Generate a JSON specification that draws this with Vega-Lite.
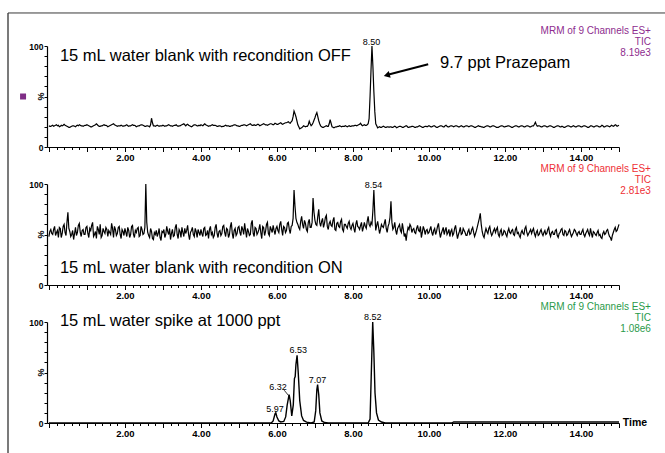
{
"$schema":"https://vega.github.io/schema/vega-lite/v6.json",
"padding":{"left":7,"top":11,"right":0,"bottom":0},
"config":{"font":"Liberation Sans","view":{"stroke":null}},
"spacing":37,
"bounds":"flush",
"datasets":{
"p1":[{"t":0,"v":21},{"t":0.05,"v":20.5},{"t":0.1,"v":21.5},{"t":0.15,"v":21},{"t":0.2,"v":22},{"t":0.25,"v":21.5},{"t":0.3,"v":20.5},{"t":0.35,"v":21},{"t":0.4,"v":22.5},{"t":0.45,"v":21},{"t":0.5,"v":20},{"t":0.55,"v":19.5},{"t":0.6,"v":20.5},{"t":0.65,"v":21},{"t":0.7,"v":20},{"t":0.75,"v":21.5},{"t":0.8,"v":22},{"t":0.85,"v":21},{"t":0.9,"v":20.5},{"t":0.95,"v":21.5},
{"t":1,"v":22},{"t":1.05,"v":21},{"t":1.1,"v":20},{"t":1.15,"v":20.5},{"t":1.2,"v":21.5},{"t":1.25,"v":23},{"t":1.3,"v":21},{"t":1.35,"v":20.5},{"t":1.4,"v":21},{"t":1.45,"v":22},{"t":1.5,"v":21.5},{"t":1.55,"v":20},{"t":1.6,"v":21},{"t":1.65,"v":22},{"t":1.7,"v":23},{"t":1.75,"v":21.5},{"t":1.8,"v":20.5},{"t":1.85,"v":21},{"t":1.9,"v":21.5},{"t":1.95,"v":20.5},
{"t":2,"v":21},{"t":2.05,"v":22},{"t":2.1,"v":20.5},{"t":2.15,"v":21},{"t":2.2,"v":22},{"t":2.25,"v":21.5},{"t":2.3,"v":20},{"t":2.35,"v":21},{"t":2.4,"v":21.5},{"t":2.45,"v":22},{"t":2.5,"v":21},{"t":2.55,"v":20.5},{"t":2.6,"v":21},{"t":2.65,"v":20},{"t":2.7,"v":28.5},{"t":2.75,"v":21},{"t":2.8,"v":20.5},{"t":2.85,"v":21.5},{"t":2.9,"v":20.5},{"t":2.95,"v":21},
{"t":3,"v":21.5},{"t":3.05,"v":20.5},{"t":3.1,"v":21},{"t":3.15,"v":22},{"t":3.2,"v":21},{"t":3.25,"v":20.5},{"t":3.3,"v":21.5},{"t":3.35,"v":22},{"t":3.4,"v":20.5},{"t":3.45,"v":21},{"t":3.5,"v":22},{"t":3.55,"v":23},{"t":3.6,"v":21},{"t":3.65,"v":22.5},{"t":3.7,"v":21},{"t":3.75,"v":20},{"t":3.8,"v":21.5},{"t":3.85,"v":22},{"t":3.9,"v":21},{"t":3.95,"v":21.5},
{"t":4,"v":22},{"t":4.05,"v":21},{"t":4.1,"v":23},{"t":4.15,"v":21.5},{"t":4.2,"v":20.5},{"t":4.25,"v":21},{"t":4.3,"v":22},{"t":4.35,"v":21.5},{"t":4.4,"v":21},{"t":4.45,"v":20.5},{"t":4.5,"v":21},{"t":4.55,"v":20},{"t":4.6,"v":20.5},{"t":4.65,"v":21.5},{"t":4.7,"v":21},{"t":4.75,"v":20.5},{"t":4.8,"v":21},{"t":4.85,"v":21.5},{"t":4.9,"v":22},{"t":4.95,"v":21},
{"t":5,"v":20.5},{"t":5.05,"v":21},{"t":5.1,"v":21.5},{"t":5.15,"v":22},{"t":5.2,"v":21},{"t":5.25,"v":22},{"t":5.3,"v":23},{"t":5.35,"v":21.5},{"t":5.4,"v":22},{"t":5.45,"v":21.5},{"t":5.5,"v":22.5},{"t":5.55,"v":21},{"t":5.6,"v":22},{"t":5.65,"v":23},{"t":5.7,"v":22},{"t":5.75,"v":21.5},{"t":5.8,"v":22.5},{"t":5.85,"v":23},{"t":5.9,"v":22},{"t":5.95,"v":23.5},
{"t":6,"v":22.5},{"t":6.05,"v":23},{"t":6.1,"v":24},{"t":6.15,"v":22.5},{"t":6.2,"v":23.5},{"t":6.25,"v":24},{"t":6.3,"v":25},{"t":6.35,"v":23.5},{"t":6.4,"v":26},{"t":6.45,"v":35.5},{"t":6.5,"v":30},{"t":6.55,"v":22},{"t":6.6,"v":18},{"t":6.65,"v":19},{"t":6.7,"v":21},{"t":6.75,"v":20},{"t":6.8,"v":20.5},{"t":6.85,"v":25.5},{"t":6.9,"v":21},{"t":6.95,"v":24},
{"t":7,"v":29},{"t":7.05,"v":34},{"t":7.1,"v":26},{"t":7.15,"v":21},{"t":7.2,"v":19.5},{"t":7.25,"v":20},{"t":7.3,"v":21},{"t":7.35,"v":20.5},{"t":7.4,"v":27},{"t":7.45,"v":20},{"t":7.5,"v":19},{"t":7.55,"v":20},{"t":7.6,"v":20.5},{"t":7.65,"v":21},{"t":7.7,"v":20},{"t":7.75,"v":20.5},{"t":7.8,"v":21},{"t":7.85,"v":20},{"t":7.9,"v":21},{"t":7.95,"v":20.5},
{"t":8,"v":21},{"t":8.05,"v":21.5},{"t":8.1,"v":21},{"t":8.15,"v":22},{"t":8.2,"v":23.5},{"t":8.25,"v":21},{"t":8.3,"v":22},{"t":8.35,"v":21.5},{"t":8.4,"v":23},{"t":8.45,"v":50},{"t":8.5,"v":100},{"t":8.55,"v":55},{"t":8.6,"v":23},{"t":8.65,"v":19},{"t":8.7,"v":20},{"t":8.75,"v":19.5},{"t":8.8,"v":20.5},{"t":8.85,"v":19.5},{"t":8.9,"v":20},{"t":8.95,"v":19.5},
{"t":9,"v":20},{"t":9.05,"v":19.5},{"t":9.1,"v":20.5},{"t":9.15,"v":19},{"t":9.2,"v":20},{"t":9.25,"v":20.5},{"t":9.3,"v":19.5},{"t":9.35,"v":20},{"t":9.4,"v":21},{"t":9.45,"v":19.5},{"t":9.5,"v":20},{"t":9.55,"v":20.5},{"t":9.6,"v":20},{"t":9.65,"v":19.5},{"t":9.7,"v":20},{"t":9.75,"v":21},{"t":9.8,"v":20},{"t":9.85,"v":19.5},{"t":9.9,"v":20.5},{"t":9.95,"v":20},
{"t":10,"v":21},{"t":10.05,"v":20},{"t":10.1,"v":20.5},{"t":10.15,"v":21},{"t":10.2,"v":19.5},{"t":10.25,"v":20},{"t":10.3,"v":21},{"t":10.35,"v":20.5},{"t":10.4,"v":20},{"t":10.45,"v":21.5},{"t":10.5,"v":20},{"t":10.55,"v":20.5},{"t":10.6,"v":21},{"t":10.65,"v":20},{"t":10.7,"v":21},{"t":10.75,"v":20.5},{"t":10.8,"v":20},{"t":10.85,"v":21},{"t":10.9,"v":20},{"t":10.95,"v":20.5},
{"t":11,"v":21},{"t":11.05,"v":20},{"t":11.1,"v":21},{"t":11.15,"v":20.5},{"t":11.2,"v":19.5},{"t":11.25,"v":20},{"t":11.3,"v":21},{"t":11.35,"v":20.5},{"t":11.4,"v":20},{"t":11.45,"v":19.5},{"t":11.5,"v":20.5},{"t":11.55,"v":21},{"t":11.6,"v":20},{"t":11.65,"v":20.5},{"t":11.7,"v":21},{"t":11.75,"v":20},{"t":11.8,"v":19.5},{"t":11.85,"v":20},{"t":11.9,"v":21},{"t":11.95,"v":20.5},
{"t":12,"v":20},{"t":12.05,"v":20.5},{"t":12.1,"v":21},{"t":12.15,"v":20},{"t":12.2,"v":19.5},{"t":12.25,"v":20.5},{"t":12.3,"v":21},{"t":12.35,"v":20},{"t":12.4,"v":20.5},{"t":12.45,"v":21},{"t":12.5,"v":20},{"t":12.55,"v":20.5},{"t":12.6,"v":21},{"t":12.65,"v":20},{"t":12.7,"v":20.5},{"t":12.75,"v":21},{"t":12.8,"v":24.5},{"t":12.85,"v":20.5},{"t":12.9,"v":21},{"t":12.95,"v":20},
{"t":13,"v":20.5},{"t":13.05,"v":21},{"t":13.1,"v":20},{"t":13.15,"v":20.5},{"t":13.2,"v":21},{"t":13.25,"v":20},{"t":13.3,"v":19.5},{"t":13.35,"v":20.5},{"t":13.4,"v":21},{"t":13.45,"v":20},{"t":13.5,"v":20.5},{"t":13.55,"v":19.5},{"t":13.6,"v":20},{"t":13.65,"v":21},{"t":13.7,"v":20.5},{"t":13.75,"v":20},{"t":13.8,"v":21},{"t":13.85,"v":20},{"t":13.9,"v":20.5},{"t":13.95,"v":21},
{"t":14,"v":20},{"t":14.05,"v":20.5},{"t":14.1,"v":21},{"t":14.15,"v":20},{"t":14.2,"v":19.5},{"t":14.25,"v":21},{"t":14.3,"v":20.5},{"t":14.35,"v":20},{"t":14.4,"v":21},{"t":14.45,"v":20.5},{"t":14.5,"v":20},{"t":14.55,"v":21.5},{"t":14.6,"v":20},{"t":14.65,"v":20.5},{"t":14.7,"v":21},{"t":14.75,"v":20},{"t":14.8,"v":21.5},{"t":14.85,"v":20.5},{"t":14.9,"v":22},{"t":14.95,"v":20.5},{"t":15,"v":21.5},
{"t":0.025,"v":20.5},{"t":0.075,"v":21},{"t":0.125,"v":20.5},{"t":0.175,"v":21.5},{"t":0.225,"v":21},{"t":0.275,"v":20},{"t":0.325,"v":21.5},{"t":0.375,"v":21.5},{"t":0.425,"v":21.5},{"t":0.475,"v":20.5},{"t":0.525,"v":19.5},{"t":0.575,"v":20},{"t":0.625,"v":21},{"t":0.675,"v":20.5},{"t":0.725,"v":21},{"t":0.775,"v":21},{"t":0.825,"v":21.5},{"t":0.875,"v":21},{"t":0.925,"v":21},{"t":0.975,"v":21.5},
{"t":1.025,"v":21.5},{"t":1.075,"v":20.5},{"t":1.125,"v":20},{"t":1.175,"v":21},{"t":1.225,"v":22},{"t":1.275,"v":22},{"t":1.325,"v":20.5},{"t":1.375,"v":21},{"t":1.425,"v":21.5},{"t":1.475,"v":21.5},{"t":1.525,"v":21},{"t":1.575,"v":20.5},{"t":1.625,"v":21.5},{"t":1.675,"v":22.5},{"t":1.725,"v":22},{"t":1.775,"v":21},{"t":1.825,"v":21},{"t":1.875,"v":21},{"t":1.925,"v":21},{"t":1.975,"v":21},
{"t":2.025,"v":21.5},{"t":2.075,"v":21},{"t":2.125,"v":21},{"t":2.175,"v":21.5},{"t":2.225,"v":21.5},{"t":2.275,"v":21},{"t":2.325,"v":20.5},{"t":2.375,"v":21},{"t":2.425,"v":22},{"t":2.475,"v":21.5},{"t":2.525,"v":20.5},{"t":2.575,"v":21},{"t":2.625,"v":20.5},{"t":2.675,"v":22},{"t":2.725,"v":24},{"t":2.775,"v":21},{"t":2.825,"v":21},{"t":2.875,"v":21},{"t":2.925,"v":21},{"t":2.975,"v":21},
{"t":3.025,"v":21},{"t":3.075,"v":21},{"t":3.125,"v":21.5},{"t":3.175,"v":21.5},{"t":3.225,"v":21},{"t":3.275,"v":21},{"t":3.325,"v":21.5},{"t":3.375,"v":21},{"t":3.425,"v":21},{"t":3.475,"v":21.5},{"t":3.525,"v":22.5},{"t":3.575,"v":22},{"t":3.625,"v":22},{"t":3.675,"v":21.5},{"t":3.725,"v":20.5},{"t":3.775,"v":20.5},{"t":3.825,"v":22},{"t":3.875,"v":21.5},{"t":3.925,"v":21},{"t":3.975,"v":21},
{"t":4.025,"v":21.5},{"t":4.075,"v":22},{"t":4.125,"v":22},{"t":4.175,"v":21},{"t":4.225,"v":21},{"t":4.275,"v":21.5},{"t":4.325,"v":21.5},{"t":4.375,"v":21.5},{"t":4.425,"v":20.5},{"t":4.475,"v":21},{"t":4.525,"v":20.5},{"t":4.575,"v":20.5},{"t":4.625,"v":21},{"t":4.675,"v":21},{"t":4.725,"v":21},{"t":4.775,"v":20.5},{"t":4.825,"v":21},{"t":4.875,"v":22},{"t":4.925,"v":21.5},{"t":4.975,"v":21},
{"t":5.025,"v":20.5},{"t":5.075,"v":21.5},{"t":5.125,"v":22},{"t":5.175,"v":21.5},{"t":5.225,"v":21.5},{"t":5.275,"v":22.5},{"t":5.325,"v":22},{"t":5.375,"v":21.5},{"t":5.425,"v":21.5},{"t":5.475,"v":22},{"t":5.525,"v":22},{"t":5.575,"v":21.5},{"t":5.625,"v":22.5},{"t":5.675,"v":22.5},{"t":5.725,"v":22},{"t":5.775,"v":22},{"t":5.825,"v":23},{"t":5.875,"v":22.5},{"t":5.925,"v":22.5},{"t":5.975,"v":23},
{"t":6.025,"v":22.5},{"t":6.075,"v":23.5},{"t":6.125,"v":23},{"t":6.175,"v":23},{"t":6.225,"v":24},{"t":6.275,"v":24.5},{"t":6.325,"v":24},{"t":6.375,"v":25},{"t":6.425,"v":30},{"t":6.475,"v":33},{"t":6.525,"v":26},{"t":6.575,"v":20},{"t":6.625,"v":18.5},{"t":6.675,"v":20},{"t":6.725,"v":20.5},{"t":6.775,"v":20.5},{"t":6.825,"v":22},{"t":6.875,"v":23},{"t":6.925,"v":22},{"t":6.975,"v":26.5},
{"t":7.025,"v":32},{"t":7.075,"v":30},{"t":7.125,"v":23},{"t":7.175,"v":20},{"t":7.225,"v":19.5},{"t":7.275,"v":20.5},{"t":7.325,"v":20.5},{"t":7.375,"v":23},{"t":7.425,"v":23.5},{"t":7.475,"v":19.5},{"t":7.525,"v":19.5},{"t":7.575,"v":20},{"t":7.625,"v":20.5},{"t":7.675,"v":20.5},{"t":7.725,"v":20.5},{"t":7.775,"v":20.5},{"t":7.825,"v":20.5},{"t":7.875,"v":20.5},{"t":7.925,"v":20.5},{"t":7.975,"v":21},
{"t":8.025,"v":21},{"t":8.075,"v":21.5},{"t":8.125,"v":21.5},{"t":8.175,"v":22.5},{"t":8.225,"v":22},{"t":8.275,"v":21.5},{"t":8.325,"v":21.5},{"t":8.375,"v":22},{"t":8.425,"v":28},{"t":8.475,"v":76},{"t":8.525,"v":80},{"t":8.575,"v":35},{"t":8.625,"v":21},{"t":8.675,"v":19.5},{"t":8.725,"v":19.5},{"t":8.775,"v":20},{"t":8.825,"v":20},{"t":8.875,"v":19.5},{"t":8.925,"v":20},{"t":8.975,"v":20},
{"t":9.025,"v":19.5},{"t":9.075,"v":20},{"t":9.125,"v":20},{"t":9.175,"v":19.5},{"t":9.225,"v":20.5},{"t":9.275,"v":20},{"t":9.325,"v":19.5},{"t":9.375,"v":20.5},{"t":9.425,"v":20.5},{"t":9.475,"v":19.5},{"t":9.525,"v":20},{"t":9.575,"v":20.5},{"t":9.625,"v":19.5},{"t":9.675,"v":20},{"t":9.725,"v":20.5},{"t":9.775,"v":20.5},{"t":9.825,"v":19.5},{"t":9.875,"v":20},{"t":9.925,"v":20.5},{"t":9.975,"v":20.5},
{"t":10.025,"v":20.5},{"t":10.075,"v":20},{"t":10.125,"v":21},{"t":10.175,"v":20},{"t":10.225,"v":19.5},{"t":10.275,"v":20.5},{"t":10.325,"v":21},{"t":10.375,"v":20},{"t":10.425,"v":21},{"t":10.475,"v":20.5},{"t":10.525,"v":20},{"t":10.575,"v":21},{"t":10.625,"v":20.5},{"t":10.675,"v":20.5},{"t":10.725,"v":21},{"t":10.775,"v":20},{"t":10.825,"v":20.5},{"t":10.875,"v":20.5},{"t":10.925,"v":20},{"t":10.975,"v":21},
{"t":11.025,"v":20.5},{"t":11.075,"v":20.5},{"t":11.125,"v":21},{"t":11.175,"v":20},{"t":11.225,"v":19.5},{"t":11.275,"v":20.5},{"t":11.325,"v":20.5},{"t":11.375,"v":20},{"t":11.425,"v":19.5},{"t":11.475,"v":20},{"t":11.525,"v":21},{"t":11.575,"v":20.5},{"t":11.625,"v":20},{"t":11.675,"v":21},{"t":11.725,"v":20.5},{"t":11.775,"v":19.5},{"t":11.825,"v":19.5},{"t":11.875,"v":20.5},{"t":11.925,"v":21},{"t":11.975,"v":20},
{"t":12.025,"v":20.5},{"t":12.075,"v":21},{"t":12.125,"v":20.5},{"t":12.175,"v":19.5},{"t":12.225,"v":20},{"t":12.275,"v":21},{"t":12.325,"v":20.5},{"t":12.375,"v":20},{"t":12.425,"v":21},{"t":12.475,"v":20.5},{"t":12.525,"v":20},{"t":12.575,"v":21},{"t":12.625,"v":20.5},{"t":12.675,"v":20},{"t":12.725,"v":21},{"t":12.775,"v":22.5},{"t":12.825,"v":22},{"t":12.875,"v":21},{"t":12.925,"v":20.5},{"t":12.975,"v":20},
{"t":13.025,"v":21},{"t":13.075,"v":20.5},{"t":13.125,"v":20},{"t":13.175,"v":21},{"t":13.225,"v":20.5},{"t":13.275,"v":19.5},{"t":13.325,"v":20},{"t":13.375,"v":21},{"t":13.425,"v":20.5},{"t":13.475,"v":20},{"t":13.525,"v":20},{"t":13.575,"v":19.5},{"t":13.625,"v":20.5},{"t":13.675,"v":21},{"t":13.725,"v":20},{"t":13.775,"v":20.5},{"t":13.825,"v":20.5},{"t":13.875,"v":20},{"t":13.925,"v":21},{"t":13.975,"v":20.5},
{"t":14.025,"v":20},{"t":14.075,"v":21},{"t":14.125,"v":20.5},{"t":14.175,"v":19.5},{"t":14.225,"v":20},{"t":14.275,"v":21},{"t":14.325,"v":20},{"t":14.375,"v":20.5},{"t":14.425,"v":21},{"t":14.475,"v":20},{"t":14.525,"v":20.5},{"t":14.575,"v":21},{"t":14.625,"v":20},{"t":14.675,"v":21},{"t":14.725,"v":20.5},{"t":14.775,"v":20.5},{"t":14.825,"v":21},{"t":14.875,"v":21},{"t":14.925,"v":21.5},{"t":14.975,"v":21}],
"p2":[{"t":0,"v":48},{"t":0.05,"v":55},{"t":0.1,"v":50},{"t":0.15,"v":58},{"t":0.2,"v":52},{"t":0.25,"v":47},{"t":0.3,"v":56},{"t":0.35,"v":51},{"t":0.4,"v":60},{"t":0.45,"v":49},{"t":0.5,"v":72},{"t":0.55,"v":53},{"t":0.6,"v":50},{"t":0.65,"v":45},{"t":0.7,"v":57},{"t":0.75,"v":52},{"t":0.8,"v":61},{"t":0.85,"v":48},{"t":0.9,"v":55},{"t":0.95,"v":50},
{"t":1,"v":58},{"t":1.05,"v":47},{"t":1.1,"v":54},{"t":1.15,"v":62},{"t":1.2,"v":50},{"t":1.25,"v":46},{"t":1.3,"v":55},{"t":1.35,"v":60},{"t":1.4,"v":49},{"t":1.45,"v":53},{"t":1.5,"v":57},{"t":1.55,"v":48},{"t":1.6,"v":52},{"t":1.65,"v":61},{"t":1.7,"v":47},{"t":1.75,"v":55},{"t":1.8,"v":51},{"t":1.85,"v":58},{"t":1.9,"v":46},{"t":1.95,"v":53},
{"t":2,"v":56},{"t":2.05,"v":48},{"t":2.1,"v":54},{"t":2.15,"v":50},{"t":2.2,"v":59},{"t":2.25,"v":47},{"t":2.3,"v":52},{"t":2.35,"v":57},{"t":2.4,"v":49},{"t":2.45,"v":55},{"t":2.5,"v":51},{"t":2.55,"v":100},{"t":2.6,"v":52},{"t":2.65,"v":47},{"t":2.7,"v":53},{"t":2.75,"v":45},{"t":2.8,"v":50},{"t":2.85,"v":48},{"t":2.9,"v":56},{"t":2.95,"v":44},
{"t":3,"v":52},{"t":3.05,"v":47},{"t":3.1,"v":58},{"t":3.15,"v":50},{"t":3.2,"v":45},{"t":3.25,"v":55},{"t":3.3,"v":49},{"t":3.35,"v":60},{"t":3.4,"v":46},{"t":3.45,"v":53},{"t":3.5,"v":57},{"t":3.55,"v":48},{"t":3.6,"v":51},{"t":3.65,"v":59},{"t":3.7,"v":45},{"t":3.75,"v":54},{"t":3.8,"v":50},{"t":3.85,"v":56},{"t":3.9,"v":47},{"t":3.95,"v":52},
{"t":4,"v":55},{"t":4.05,"v":48},{"t":4.1,"v":57},{"t":4.15,"v":50},{"t":4.2,"v":46},{"t":4.25,"v":58},{"t":4.3,"v":52},{"t":4.35,"v":49},{"t":4.4,"v":60},{"t":4.45,"v":47},{"t":4.5,"v":54},{"t":4.55,"v":51},{"t":4.6,"v":59},{"t":4.65,"v":48},{"t":4.7,"v":55},{"t":4.75,"v":50},{"t":4.8,"v":62},{"t":4.85,"v":46},{"t":4.9,"v":56},{"t":4.95,"v":51},
{"t":5,"v":58},{"t":5.05,"v":49},{"t":5.1,"v":55},{"t":5.15,"v":61},{"t":5.2,"v":47},{"t":5.25,"v":53},{"t":5.3,"v":50},{"t":5.35,"v":64},{"t":5.4,"v":48},{"t":5.45,"v":56},{"t":5.5,"v":52},{"t":5.55,"v":60},{"t":5.6,"v":46},{"t":5.65,"v":57},{"t":5.7,"v":53},{"t":5.75,"v":62},{"t":5.8,"v":49},{"t":5.85,"v":55},{"t":5.9,"v":59},{"t":5.95,"v":50},
{"t":6,"v":58},{"t":6.05,"v":52},{"t":6.1,"v":63},{"t":6.15,"v":49},{"t":6.2,"v":57},{"t":6.25,"v":54},{"t":6.3,"v":62},{"t":6.35,"v":51},{"t":6.4,"v":59},{"t":6.45,"v":94},{"t":6.5,"v":66},{"t":6.55,"v":60},{"t":6.6,"v":55},{"t":6.65,"v":68},{"t":6.7,"v":56},{"t":6.75,"v":61},{"t":6.8,"v":53},{"t":6.85,"v":65},{"t":6.9,"v":57},{"t":6.95,"v":86},
{"t":7,"v":64},{"t":7.05,"v":59},{"t":7.1,"v":75},{"t":7.15,"v":58},{"t":7.2,"v":66},{"t":7.25,"v":61},{"t":7.3,"v":69},{"t":7.35,"v":55},{"t":7.4,"v":63},{"t":7.45,"v":58},{"t":7.5,"v":67},{"t":7.55,"v":54},{"t":7.6,"v":62},{"t":7.65,"v":57},{"t":7.7,"v":65},{"t":7.75,"v":53},{"t":7.8,"v":60},{"t":7.85,"v":56},{"t":7.9,"v":63},{"t":7.95,"v":55},
{"t":8,"v":61},{"t":8.05,"v":52},{"t":8.1,"v":64},{"t":8.15,"v":57},{"t":8.2,"v":59},{"t":8.25,"v":53},{"t":8.3,"v":62},{"t":8.35,"v":56},{"t":8.4,"v":68},{"t":8.45,"v":58},{"t":8.5,"v":60},{"t":8.55,"v":94},{"t":8.6,"v":54},{"t":8.65,"v":63},{"t":8.7,"v":51},{"t":8.75,"v":60},{"t":8.8,"v":57},{"t":8.85,"v":65},{"t":8.9,"v":52},{"t":8.95,"v":61},
{"t":9,"v":83},{"t":9.05,"v":55},{"t":9.1,"v":62},{"t":9.15,"v":50},{"t":9.2,"v":58},{"t":9.25,"v":54},{"t":9.3,"v":61},{"t":9.35,"v":48},{"t":9.4,"v":44},{"t":9.45,"v":57},{"t":9.5,"v":60},{"t":9.55,"v":52},{"t":9.6,"v":56},{"t":9.65,"v":51},{"t":9.7,"v":59},{"t":9.75,"v":53},{"t":9.8,"v":47},{"t":9.85,"v":58},{"t":9.9,"v":50},{"t":9.95,"v":55},
{"t":10,"v":52},{"t":10.05,"v":58},{"t":10.1,"v":49},{"t":10.15,"v":56},{"t":10.2,"v":53},{"t":10.25,"v":61},{"t":10.3,"v":47},{"t":10.35,"v":54},{"t":10.4,"v":50},{"t":10.45,"v":57},{"t":10.5,"v":52},{"t":10.55,"v":48},{"t":10.6,"v":55},{"t":10.65,"v":51},{"t":10.7,"v":59},{"t":10.75,"v":46},{"t":10.8,"v":53},{"t":10.85,"v":50},{"t":10.9,"v":56},{"t":10.95,"v":52},
{"t":11,"v":49},{"t":11.05,"v":55},{"t":11.1,"v":51},{"t":11.15,"v":57},{"t":11.2,"v":48},{"t":11.25,"v":54},{"t":11.3,"v":62},{"t":11.35,"v":71},{"t":11.4,"v":53},{"t":11.45,"v":47},{"t":11.5,"v":56},{"t":11.55,"v":51},{"t":11.6,"v":58},{"t":11.65,"v":49},{"t":11.7,"v":54},{"t":11.75,"v":52},{"t":11.8,"v":57},{"t":11.85,"v":48},{"t":11.9,"v":55},{"t":11.95,"v":50},
{"t":12,"v":53},{"t":12.05,"v":48},{"t":12.1,"v":56},{"t":12.15,"v":51},{"t":12.2,"v":55},{"t":12.25,"v":49},{"t":12.3,"v":57},{"t":12.35,"v":52},{"t":12.4,"v":47},{"t":12.45,"v":54},{"t":12.5,"v":50},{"t":12.55,"v":58},{"t":12.6,"v":49},{"t":12.65,"v":53},{"t":12.7,"v":51},{"t":12.75,"v":56},{"t":12.8,"v":48},{"t":12.85,"v":54},{"t":12.9,"v":50},{"t":12.95,"v":55},
{"t":13,"v":49},{"t":13.05,"v":54},{"t":13.1,"v":51},{"t":13.15,"v":57},{"t":13.2,"v":48},{"t":13.25,"v":53},{"t":13.3,"v":50},{"t":13.35,"v":55},{"t":13.4,"v":47},{"t":13.45,"v":52},{"t":13.5,"v":56},{"t":13.55,"v":49},{"t":13.6,"v":53},{"t":13.65,"v":50},{"t":13.7,"v":55},{"t":13.75,"v":48},{"t":13.8,"v":52},{"t":13.85,"v":54},{"t":13.9,"v":49},{"t":13.95,"v":53},
{"t":14,"v":50},{"t":14.05,"v":55},{"t":14.1,"v":48},{"t":14.15,"v":53},{"t":14.2,"v":51},{"t":14.25,"v":56},{"t":14.3,"v":47},{"t":14.35,"v":52},{"t":14.4,"v":49},{"t":14.45,"v":54},{"t":14.5,"v":50},{"t":14.55,"v":46},{"t":14.6,"v":53},{"t":14.65,"v":51},{"t":14.7,"v":55},{"t":14.75,"v":48},{"t":14.8,"v":44},{"t":14.85,"v":52},{"t":14.9,"v":57},{"t":14.95,"v":54},{"t":15,"v":60},
{"t":0.025,"v":53},{"t":0.075,"v":51},{"t":0.125,"v":55},{"t":0.175,"v":49},{"t":0.225,"v":54},{"t":0.275,"v":57},{"t":0.325,"v":47},{"t":0.375,"v":58},{"t":0.425,"v":52},{"t":0.475,"v":62},{"t":0.525,"v":56},{"t":0.575,"v":48},{"t":0.625,"v":54},{"t":0.675,"v":51},{"t":0.725,"v":49},{"t":0.775,"v":59},{"t":0.825,"v":52},{"t":0.875,"v":54},{"t":0.925,"v":50},{"t":0.975,"v":57},
{"t":1.025,"v":51},{"t":1.075,"v":56},{"t":1.125,"v":59},{"t":1.175,"v":48},{"t":1.225,"v":53},{"t":1.275,"v":58},{"t":1.325,"v":50},{"t":1.375,"v":47},{"t":1.425,"v":56},{"t":1.475,"v":51},{"t":1.525,"v":55},{"t":1.575,"v":54},{"t":1.625,"v":50},{"t":1.675,"v":56},{"t":1.725,"v":58},{"t":1.775,"v":49},{"t":1.825,"v":57},{"t":1.875,"v":50},{"t":1.925,"v":55},{"t":1.975,"v":49},
{"t":2.025,"v":52},{"t":2.075,"v":57},{"t":2.125,"v":47},{"t":2.175,"v":58},{"t":2.225,"v":50},{"t":2.275,"v":54},{"t":2.325,"v":56},{"t":2.375,"v":48},{"t":2.425,"v":58},{"t":2.475,"v":50},{"t":2.525,"v":57},{"t":2.575,"v":62},{"t":2.625,"v":49},{"t":2.675,"v":56},{"t":2.725,"v":46},{"t":2.775,"v":52},{"t":2.825,"v":54},{"t":2.875,"v":51},{"t":2.925,"v":47},{"t":2.975,"v":53},
{"t":3.025,"v":55},{"t":3.075,"v":50},{"t":3.125,"v":53},{"t":3.175,"v":56},{"t":3.225,"v":51},{"t":3.275,"v":48},{"t":3.325,"v":57},{"t":3.375,"v":50},{"t":3.425,"v":55},{"t":3.475,"v":47},{"t":3.525,"v":52},{"t":3.575,"v":56},{"t":3.625,"v":54},{"t":3.675,"v":50},{"t":3.725,"v":52},{"t":3.775,"v":57},{"t":3.825,"v":48},{"t":3.875,"v":53},{"t":3.925,"v":55},{"t":3.975,"v":49},
{"t":4.025,"v":51},{"t":4.075,"v":56},{"t":4.125,"v":49},{"t":4.175,"v":54},{"t":4.225,"v":55},{"t":4.275,"v":50},{"t":4.325,"v":47},{"t":4.375,"v":57},{"t":4.425,"v":51},{"t":4.475,"v":53},{"t":4.525,"v":49},{"t":4.575,"v":58},{"t":4.625,"v":52},{"t":4.675,"v":56},{"t":4.725,"v":47},{"t":4.775,"v":58},{"t":4.825,"v":51},{"t":4.875,"v":54},{"t":4.925,"v":49},{"t":4.975,"v":57},
{"t":5.025,"v":52},{"t":5.075,"v":58},{"t":5.125,"v":50},{"t":5.175,"v":54},{"t":5.225,"v":56},{"t":5.275,"v":49},{"t":5.325,"v":61},{"t":5.375,"v":51},{"t":5.425,"v":57},{"t":5.475,"v":50},{"t":5.525,"v":55},{"t":5.575,"v":52},{"t":5.625,"v":58},{"t":5.675,"v":49},{"t":5.725,"v":60},{"t":5.775,"v":51},{"t":5.825,"v":58},{"t":5.875,"v":52},{"t":5.925,"v":54},{"t":5.975,"v":56},
{"t":6.025,"v":54},{"t":6.075,"v":60},{"t":6.125,"v":55},{"t":6.175,"v":58},{"t":6.225,"v":52},{"t":6.275,"v":61},{"t":6.325,"v":55},{"t":6.375,"v":58},{"t":6.425,"v":66},{"t":6.475,"v":78},{"t":6.525,"v":62},{"t":6.575,"v":57},{"t":6.625,"v":63},{"t":6.675,"v":60},{"t":6.725,"v":64},{"t":6.775,"v":55},{"t":6.825,"v":62},{"t":6.875,"v":57},{"t":6.925,"v":62},{"t":6.975,"v":72},
{"t":7.025,"v":60},{"t":7.075,"v":68},{"t":7.125,"v":62},{"t":7.175,"v":63},{"t":7.225,"v":57},{"t":7.275,"v":67},{"t":7.325,"v":58},{"t":7.375,"v":61},{"t":7.425,"v":59},{"t":7.475,"v":64},{"t":7.525,"v":55},{"t":7.575,"v":61},{"t":7.625,"v":58},{"t":7.675,"v":63},{"t":7.725,"v":55},{"t":7.775,"v":60},{"t":7.825,"v":58},{"t":7.875,"v":61},{"t":7.925,"v":57},{"t":7.975,"v":59},
{"t":8.025,"v":56},{"t":8.075,"v":60},{"t":8.125,"v":58},{"t":8.175,"v":55},{"t":8.225,"v":62},{"t":8.275,"v":57},{"t":8.325,"v":58},{"t":8.375,"v":63},{"t":8.425,"v":60},{"t":8.475,"v":62},{"t":8.525,"v":74},{"t":8.575,"v":70},{"t":8.625,"v":59},{"t":8.675,"v":57},{"t":8.725,"v":55},{"t":8.775,"v":58},{"t":8.825,"v":61},{"t":8.875,"v":56},{"t":8.925,"v":58},{"t":8.975,"v":67},
{"t":9.025,"v":62},{"t":9.075,"v":57},{"t":9.125,"v":54},{"t":9.175,"v":56},{"t":9.225,"v":60},{"t":9.275,"v":52},{"t":9.325,"v":55},{"t":9.375,"v":51},{"t":9.425,"v":52},{"t":9.475,"v":55},{"t":9.525,"v":58},{"t":9.575,"v":55},{"t":9.625,"v":52},{"t":9.675,"v":56},{"t":9.725,"v":54},{"t":9.775,"v":58},{"t":9.825,"v":52},{"t":9.875,"v":55},{"t":9.925,"v":54},{"t":9.975,"v":51},
{"t":10.025,"v":55},{"t":10.075,"v":52},{"t":10.125,"v":54},{"t":10.175,"v":50},{"t":10.225,"v":58},{"t":10.275,"v":53},{"t":10.325,"v":51},{"t":10.375,"v":57},{"t":10.425,"v":54},{"t":10.475,"v":50},{"t":10.525,"v":55},{"t":10.575,"v":53},{"t":10.625,"v":49},{"t":10.675,"v":56},{"t":10.725,"v":52},{"t":10.775,"v":50},{"t":10.825,"v":57},{"t":10.875,"v":51},{"t":10.925,"v":54},{"t":10.975,"v":49},
{"t":11.025,"v":53},{"t":11.075,"v":50},{"t":11.125,"v":55},{"t":11.175,"v":52},{"t":11.225,"v":51},{"t":11.275,"v":58},{"t":11.325,"v":66},{"t":11.375,"v":60},{"t":11.425,"v":49},{"t":11.475,"v":52},{"t":11.525,"v":53},{"t":11.575,"v":56},{"t":11.625,"v":52},{"t":11.675,"v":51},{"t":11.725,"v":56},{"t":11.775,"v":55},{"t":11.825,"v":50},{"t":11.875,"v":53},{"t":11.925,"v":49},{"t":11.975,"v":54},
{"t":12.025,"v":50},{"t":12.075,"v":53},{"t":12.125,"v":52},{"t":12.175,"v":54},{"t":12.225,"v":50},{"t":12.275,"v":55},{"t":12.325,"v":51},{"t":12.375,"v":49},{"t":12.425,"v":52},{"t":12.475,"v":51},{"t":12.525,"v":56},{"t":12.575,"v":52},{"t":12.625,"v":51},{"t":12.675,"v":55},{"t":12.725,"v":54},{"t":12.775,"v":51},{"t":12.825,"v":52},{"t":12.875,"v":49},{"t":12.925,"v":53},{"t":12.975,"v":51},
{"t":13.025,"v":52},{"t":13.075,"v":50},{"t":13.125,"v":55},{"t":13.175,"v":51},{"t":13.225,"v":52},{"t":13.275,"v":50},{"t":13.325,"v":54},{"t":13.375,"v":49},{"t":13.425,"v":51},{"t":13.475,"v":55},{"t":13.525,"v":50},{"t":13.575,"v":54},{"t":13.625,"v":49},{"t":13.675,"v":53},{"t":13.725,"v":51},{"t":13.775,"v":50},{"t":13.825,"v":55},{"t":13.875,"v":51},{"t":13.925,"v":52},{"t":13.975,"v":50},
{"t":14.025,"v":53},{"t":14.075,"v":50},{"t":14.125,"v":51},{"t":14.175,"v":55},{"t":14.225,"v":49},{"t":14.275,"v":51},{"t":14.325,"v":53},{"t":14.375,"v":50},{"t":14.425,"v":52},{"t":14.475,"v":49},{"t":14.525,"v":47},{"t":14.575,"v":51},{"t":14.625,"v":50},{"t":14.675,"v":54},{"t":14.725,"v":51},{"t":14.775,"v":47},{"t":14.825,"v":49},{"t":14.875,"v":55},{"t":14.925,"v":53},{"t":14.975,"v":57}],
"p3":[{"t":0,"v":0},{"t":5.85,"v":0},{"t":5.9,"v":2},{"t":5.95,"v":9},{"t":5.97,"v":10},{"t":6.0,"v":6},{"t":6.05,"v":2},{"t":6.1,"v":1},{"t":6.18,"v":1.5},{"t":6.23,"v":6},{"t":6.27,"v":18},{"t":6.32,"v":28},{"t":6.35,"v":22},{"t":6.39,"v":7},{"t":6.43,"v":18},{"t":6.46,"v":44},{"t":6.48,"v":46},{"t":6.5,"v":58},{"t":6.53,"v":67},{"t":6.56,"v":50},{"t":6.6,"v":22},{"t":6.65,"v":7},{"t":6.7,"v":2.5},{"t":6.78,"v":0.8},{"t":6.9,"v":0},{"t":6.98,"v":1},{"t":7.02,"v":12},{"t":7.05,"v":33},{"t":7.07,"v":38},{"t":7.1,"v":28},{"t":7.13,"v":10},{"t":7.18,"v":2},{"t":7.25,"v":0.5},{"t":7.35,"v":0},{"t":8.4,"v":0},{"t":8.45,"v":4},{"t":8.48,"v":45},{"t":8.52,"v":100},{"t":8.55,"v":70},{"t":8.58,"v":30},{"t":8.62,"v":10},{"t":8.67,"v":3},{"t":8.75,"v":1},{"t":8.85,"v":0},{"t":10.6,"v":0},{"t":10.65,"v":1},{"t":15,"v":1}]
},
"vconcat":[
{
"width":572,"height":101,
"encoding":{
"x":{"field":"t","type":"quantitative","title":null,"scale":{"domain":[-0.05,15],"nice":false,"zero":false},
"axis":{"values":[0,0.2,0.4,0.6,0.8,1,1.2,1.4,1.6,1.8,2,2.2,2.4,2.6,2.8,3,3.2,3.4,3.6,3.8,4,4.2,4.4,4.6,4.8,5,5.2,5.4,5.6,5.8,6,6.2,6.4,6.6,6.8,7,7.2,7.4,7.6,7.8,8,8.2,8.4,8.6,8.8,9,9.2,9.4,9.6,9.8,10,10.2,10.4,10.6,10.8,11,11.2,11.4,11.6,11.8,12,12.2,12.4,12.6,12.8,13,13.2,13.4,13.6,13.8,14,14.2,14.4,14.6,14.8,15],
"labelExpr":"abs(datum.value/2-round(datum.value/2))<0.01 && datum.value>0.5 ? format(datum.value,'.2f') : ''",
"tickSize":{"condition":{"test":"abs(datum.value-round(datum.value))<0.01","value":4.5},"value":2.5},
"labelFontSize":9.5,"labelFontWeight":"bold","labelPadding":1,"labelOverlap":false,"labelFlush":false,"grid":false,"domainColor":"black","tickColor":"black","labelColor":"black","domainWidth":1.2,"tickWidth":1}},
"y":{"field":"v","type":"quantitative","title":null,"scale":{"domain":[0,100],"nice":false,"zero":false},
"axis":{"values":[0,10,20,30,40,50,60,70,80,90,100],"labelExpr":"datum.value==0||datum.value==100 ? datum.label : ''","tickSize":3,"labelFontSize":8.5,"labelFontWeight":"bold","labelPadding":1,"labelOverlap":false,"grid":false,"domainColor":"black","tickColor":"black","labelColor":"black","domainWidth":1.2,"tickWidth":1}}
},
"layer":[
{"data":{"name":"p1"},"mark":{"type":"line","color":"black","strokeWidth":1.2}},
{"data":{"values":[{"t":-1.076,"v":132.7,"t2":-1.076,"v2":-320}]},"mark":{"type":"rule","color":"#7a7a7a","strokeWidth":2},"encoding":{"x2":{"field":"t2"},"y2":{"field":"v2"}}},
{"data":{"values":[{"t":-1.076,"v":132.7,"t2":16.6,"v2":132.7}]},"mark":{"type":"rule","color":"#3a3a3a","strokeWidth":1},"encoding":{"x2":{"field":"t2"},"y2":{"field":"v2"}}},
{"data":{"values":[{"t":9.98,"v":81.9,"t2":8.89,"v2":71.2}]},"mark":{"type":"rule","color":"black","strokeWidth":2},"encoding":{"x2":{"field":"t2"},"y2":{"field":"v2"}}},
{"data":{"values":[{"t":8.89,"v":71.2}]},"mark":{"type":"point","shape":"triangle-left","angle":-15,"size":50,"filled":true,"color":"black","opacity":1}},
{"data":{"values":[{"t":-0.68,"v":50}]},"mark":{"type":"point","shape":"square","size":36,"filled":true,"color":"#7f2d86","opacity":1}},
{"data":{"values":[{"t":-0.21,"v":50,"txt":"%"}]},"mark":{"type":"text","angle":270,"fontSize":9,"fontWeight":"bold","color":"black"},"encoding":{"text":{"field":"txt"}}},
{"data":{"values":[{"t":0.29,"v":90,"txt":"15 mL water blank with recondition OFF"},{"t":10.29,"v":83.5,"txt":"9.7 ppt Prazepam"}]},"mark":{"type":"text","align":"left","baseline":"middle","fontSize":16.5,"color":"black"},"encoding":{"text":{"field":"txt"}}},
{"data":{"values":[{"t":8.49,"v":104,"txt":"8.50"}]},"mark":{"type":"text","align":"center","baseline":"middle","fontSize":9,"color":"black"},"encoding":{"text":{"field":"txt"}}},
{"data":{"values":[{"t":15.84,"v":114.5,"txt":"MRM of 9 Channels ES+"},{"t":15.84,"v":103.8,"txt":"TIC"},{"t":15.84,"v":93.2,"txt":"8.19e3"}]},"mark":{"type":"text","align":"right","baseline":"middle","fontSize":10,"color":"#8e2c8e"},"encoding":{"text":{"field":"txt"}}}
]
},
{
"width":572,"height":101,
"encoding":{
"x":{"field":"t","type":"quantitative","title":null,"scale":{"domain":[-0.05,15],"nice":false,"zero":false},
"axis":{"values":[0,0.2,0.4,0.6,0.8,1,1.2,1.4,1.6,1.8,2,2.2,2.4,2.6,2.8,3,3.2,3.4,3.6,3.8,4,4.2,4.4,4.6,4.8,5,5.2,5.4,5.6,5.8,6,6.2,6.4,6.6,6.8,7,7.2,7.4,7.6,7.8,8,8.2,8.4,8.6,8.8,9,9.2,9.4,9.6,9.8,10,10.2,10.4,10.6,10.8,11,11.2,11.4,11.6,11.8,12,12.2,12.4,12.6,12.8,13,13.2,13.4,13.6,13.8,14,14.2,14.4,14.6,14.8,15],
"labelExpr":"abs(datum.value/2-round(datum.value/2))<0.01 && datum.value>0.5 ? format(datum.value,'.2f') : ''",
"tickSize":{"condition":{"test":"abs(datum.value-round(datum.value))<0.01","value":4.5},"value":2.5},
"labelFontSize":9.5,"labelFontWeight":"bold","labelPadding":1,"labelOverlap":false,"labelFlush":false,"grid":false,"domainColor":"black","tickColor":"black","labelColor":"black","domainWidth":1.2,"tickWidth":1}},
"y":{"field":"v","type":"quantitative","title":null,"scale":{"domain":[0,100],"nice":false,"zero":false},
"axis":{"values":[0,10,20,30,40,50,60,70,80,90,100],"labelExpr":"datum.value==0||datum.value==100 ? datum.label : ''","tickSize":3,"labelFontSize":8.5,"labelFontWeight":"bold","labelPadding":1,"labelOverlap":false,"grid":false,"domainColor":"black","tickColor":"black","labelColor":"black","domainWidth":1.2,"tickWidth":1}}
},
"layer":[
{"data":{"name":"p2"},"mark":{"type":"line","color":"black","strokeWidth":1.2}},
{"data":{"values":[{"t":-0.21,"v":50,"txt":"%"}]},"mark":{"type":"text","angle":270,"fontSize":9,"fontWeight":"bold","color":"black"},"encoding":{"text":{"field":"txt"}}},
{"data":{"values":[{"t":0.29,"v":17,"txt":"15 mL water blank with recondition ON"}]},"mark":{"type":"text","align":"left","baseline":"middle","fontSize":16.5,"color":"black"},"encoding":{"text":{"field":"txt"}}},
{"data":{"values":[{"t":8.54,"v":98.7,"txt":"8.54"}]},"mark":{"type":"text","align":"center","baseline":"middle","fontSize":9,"color":"black"},"encoding":{"text":{"field":"txt"}}},
{"data":{"values":[{"t":15.84,"v":114.5,"txt":"MRM of 9 Channels ES+"},{"t":15.84,"v":103.8,"txt":"TIC"},{"t":15.84,"v":93.2,"txt":"2.81e3"}]},"mark":{"type":"text","align":"right","baseline":"middle","fontSize":10,"color":"#ee3036"},"encoding":{"text":{"field":"txt"}}}
]
},
{
"width":572,"height":101,
"encoding":{
"x":{"field":"t","type":"quantitative","title":null,"scale":{"domain":[-0.05,15],"nice":false,"zero":false},
"axis":{"values":[0,0.2,0.4,0.6,0.8,1,1.2,1.4,1.6,1.8,2,2.2,2.4,2.6,2.8,3,3.2,3.4,3.6,3.8,4,4.2,4.4,4.6,4.8,5,5.2,5.4,5.6,5.8,6,6.2,6.4,6.6,6.8,7,7.2,7.4,7.6,7.8,8,8.2,8.4,8.6,8.8,9,9.2,9.4,9.6,9.8,10,10.2,10.4,10.6,10.8,11,11.2,11.4,11.6,11.8,12,12.2,12.4,12.6,12.8,13,13.2,13.4,13.6,13.8,14,14.2,14.4,14.6,14.8,15],
"labelExpr":"abs(datum.value/2-round(datum.value/2))<0.01 && datum.value>0.5 ? format(datum.value,'.2f') : ''",
"tickSize":{"condition":{"test":"abs(datum.value-round(datum.value))<0.01","value":4.5},"value":2.5},
"labelFontSize":9.5,"labelFontWeight":"bold","labelPadding":1,"labelOverlap":false,"labelFlush":false,"grid":false,"domainColor":"black","tickColor":"black","labelColor":"black","domainWidth":1.2,"tickWidth":1}},
"y":{"field":"v","type":"quantitative","title":null,"scale":{"domain":[0,100],"nice":false,"zero":false},
"axis":{"values":[0,10,20,30,40,50,60,70,80,90,100],"labelExpr":"datum.value==0||datum.value==100 ? datum.label : ''","tickSize":3,"labelFontSize":8.5,"labelFontWeight":"bold","labelPadding":1,"labelOverlap":false,"grid":false,"domainColor":"black","tickColor":"black","labelColor":"black","domainWidth":1.2,"tickWidth":1}}
},
"layer":[
{"data":{"name":"p3"},"mark":{"type":"line","color":"black","strokeWidth":1.4}},
{"data":{"values":[{"t":-0.21,"v":50,"txt":"%"}]},"mark":{"type":"text","angle":270,"fontSize":9,"fontWeight":"bold","color":"black"},"encoding":{"text":{"field":"txt"}}},
{"data":{"values":[{"t":0.29,"v":101,"txt":"15 mL water spike at 1000 ppt"}]},"mark":{"type":"text","align":"left","baseline":"middle","fontSize":16.5,"color":"black"},"encoding":{"text":{"field":"txt"}}},
{"data":{"values":[{"t":5.95,"v":13.6,"txt":"5.97"},{"t":6.03,"v":36,"txt":"6.32"},{"t":6.56,"v":72,"txt":"6.53"},{"t":7.07,"v":42.6,"txt":"7.07"},{"t":8.52,"v":105,"txt":"8.52"}]},"mark":{"type":"text","align":"center","baseline":"middle","fontSize":9,"color":"black"},"encoding":{"text":{"field":"txt"}}},
{"data":{"values":[{"t":6.19,"v":32.5,"t2":6.31,"v2":27}]},"mark":{"type":"rule","color":"black","strokeWidth":0.8},"encoding":{"x2":{"field":"t2"},"y2":{"field":"v2"}}},
{"data":{"values":[{"t":15.1,"v":0,"txt":"Time"}]},"mark":{"type":"text","align":"left","baseline":"middle","fontSize":10.5,"fontWeight":"bold","color":"black"},"encoding":{"text":{"field":"txt"}}},
{"data":{"values":[{"t":15.84,"v":114.5,"txt":"MRM of 9 Channels ES+"},{"t":15.84,"v":103.8,"txt":"TIC"},{"t":15.84,"v":93.2,"txt":"1.08e6"}]},"mark":{"type":"text","align":"right","baseline":"middle","fontSize":10,"color":"#2a9a4a"},"encoding":{"text":{"field":"txt"}}}
]
}
]
}
